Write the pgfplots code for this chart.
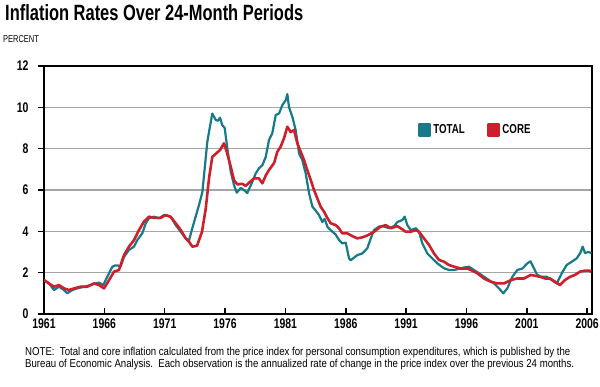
\documentclass[border=0pt]{standalone}
\usepackage{pgfplots}
\pgfplotsset{compat=1.18}
\usepackage{fontspec}
\setmainfont{Liberation Sans}[FakeStretch=0.75]
\newfontfamily\notefont{Liberation Sans}[FakeStretch=0.84]
\definecolor{tealc}{RGB}{22,122,136}
\definecolor{redc}{RGB}{205,32,44}
\definecolor{gridc}{RGB}{165,165,165}

\pgfplotstableread{
year val
1961.00 1.64
1961.41 1.48
1961.83 1.16
1962.24 1.32
1962.66 1.16
1962.93 1.00
1963.34 1.16
1963.76 1.24
1964.31 1.32
1964.87 1.40
1965.28 1.48
1965.56 1.52
1965.91 1.40
1966.24 1.80
1966.66 2.29
1966.90 2.35
1967.10 2.35
1967.35 2.30
1967.63 2.77
1968.04 3.10
1968.46 3.26
1968.73 3.58
1969.14 3.90
1969.43 4.39
1969.70 4.63
1970.11 4.71
1970.53 4.63
1970.94 4.79
1971.22 4.75
1971.50 4.70
1971.91 4.30
1972.33 3.98
1972.74 3.66
1973.01 3.55
1973.29 4.16
1973.84 5.27
1974.12 5.90
1974.53 8.34
1974.94 9.70
1975.23 9.39
1975.41 9.35
1975.58 9.50
1975.77 9.14
1975.97 9.00
1976.19 8.00
1976.47 6.90
1976.74 6.24
1976.97 5.87
1977.30 6.10
1977.57 6.00
1977.84 5.85
1978.26 6.40
1978.54 6.80
1978.81 7.05
1979.09 7.20
1979.37 7.60
1979.64 8.42
1979.91 8.74
1980.20 9.63
1980.47 9.70
1980.74 10.10
1981.03 10.35
1981.16 10.64
1981.30 10.00
1981.57 9.55
1981.85 8.90
1982.13 7.77
1982.40 7.45
1982.68 6.80
1982.96 5.84
1983.23 5.20
1983.51 5.00
1983.78 4.79
1984.06 4.45
1984.25 4.60
1984.50 4.20
1984.75 4.06
1985.17 3.84
1985.44 3.58
1985.71 3.42
1986.00 3.45
1986.27 2.69
1986.41 2.60
1986.96 2.85
1987.37 2.93
1987.79 3.18
1988.07 3.66
1988.34 4.06
1988.75 4.23
1989.17 4.23
1989.58 4.15
1990.00 4.25
1990.27 4.45
1990.69 4.55
1990.88 4.71
1991.10 4.30
1991.38 4.06
1991.80 4.15
1992.07 3.98
1992.34 3.42
1992.76 2.93
1993.17 2.69
1993.59 2.45
1994.14 2.21
1994.55 2.13
1994.97 2.13
1995.52 2.20
1995.80 2.25
1996.21 2.29
1996.62 2.13
1997.04 1.97
1997.45 1.80
1997.87 1.64
1998.28 1.48
1998.70 1.24
1999.05 1.00
1999.38 1.24
1999.80 1.80
2000.21 2.13
2000.63 2.20
2001.04 2.45
2001.30 2.55
2001.60 2.20
2001.85 1.90
2002.23 1.80
2002.65 1.80
2003.06 1.64
2003.48 1.48
2003.89 1.97
2004.30 2.37
2004.72 2.53
2005.13 2.69
2005.41 2.93
2005.63 3.26
2005.82 2.95
2006.10 3.00
2006.35 2.95
}\totaltable

\pgfplotstableread{
year val
1961.00 1.64
1961.41 1.48
1961.83 1.32
1962.24 1.40
1962.66 1.24
1963.07 1.16
1963.49 1.24
1964.04 1.32
1964.59 1.32
1965.14 1.48
1965.56 1.40
1965.97 1.24
1966.39 1.64
1966.80 2.05
1967.21 2.13
1967.63 2.85
1968.04 3.26
1968.46 3.58
1968.87 4.06
1969.28 4.47
1969.70 4.71
1970.11 4.65
1970.67 4.65
1971.08 4.79
1971.50 4.70
1971.91 4.39
1972.33 4.06
1972.74 3.66
1973.01 3.50
1973.29 3.26
1973.68 3.30
1974.09 3.98
1974.40 5.10
1974.67 6.56
1974.94 7.60
1975.23 7.75
1975.58 7.93
1975.91 8.26
1976.14 7.85
1976.47 7.13
1976.74 6.48
1977.02 6.27
1977.43 6.30
1977.71 6.20
1977.98 6.35
1978.40 6.56
1978.81 6.56
1979.09 6.32
1979.37 6.70
1979.64 6.97
1980.06 7.30
1980.33 7.85
1980.61 8.10
1980.88 8.50
1981.16 9.06
1981.44 8.80
1981.71 8.90
1981.99 8.26
1982.27 7.85
1982.54 7.45
1982.81 6.97
1983.10 6.48
1983.37 6.00
1983.64 5.60
1983.92 5.19
1984.20 4.95
1984.47 4.65
1984.75 4.39
1985.17 4.30
1985.44 4.15
1985.71 3.90
1986.13 3.90
1986.54 3.77
1986.96 3.66
1987.37 3.71
1987.79 3.80
1988.34 3.98
1988.90 4.23
1989.31 4.30
1989.72 4.15
1990.27 4.25
1990.55 4.15
1990.97 3.98
1991.38 3.98
1991.80 4.06
1992.07 3.98
1992.48 3.66
1992.90 3.34
1993.31 2.93
1993.73 2.61
1994.14 2.53
1994.55 2.37
1994.97 2.29
1995.52 2.20
1996.07 2.20
1996.35 2.13
1996.90 1.97
1997.45 1.72
1998.01 1.56
1998.56 1.48
1999.11 1.48
1999.67 1.64
2000.21 1.72
2000.77 1.72
2001.32 1.89
2001.68 1.85
2002.09 1.80
2002.51 1.72
2002.92 1.72
2003.34 1.56
2003.75 1.40
2004.16 1.64
2004.58 1.80
2004.99 1.89
2005.41 2.05
2005.82 2.10
2006.18 2.10
2006.35 2.05
}\coretable

\begin{document}
\begin{tikzpicture}
\path[use as bounding box] (0bp,0bp) rectangle (600bp,387bp);
\node[anchor=base west, inner sep=0pt] at (5bp,366bp)
  {\resizebox{298bp}{16bp}{\bfseries Inflation Rates Over 24-Month Periods}};
\node[anchor=base west, inner sep=0pt] at (3bp,344bp)
  {\fontsize{10}{10}\selectfont PERCENT};
\node[anchor=base west, inner sep=0pt, align=left] at (25bp,20bp)
  {\notefont\fontsize{11.5}{12}\selectfont NOTE:\ \ Total and core inflation calculated from the price index for personal consumption expenditures, which is published by the\\[0pt]
   \notefont\fontsize{11.5}{12}\selectfont Bureau of Economic Analysis.\ \ Each observation is the annualized rate of change in the price index over the previous 24 months.};
\begin{axis}[
  at={(44bp,73bp)}, anchor=south west,
  scale only axis, width=548bp, height=248bp,
  xmin=1961, xmax=2006.4, ymin=0, ymax=12,
  xtick={1961,1966,...,2006}, ytick={0,2,...,12},
  xtick pos=bottom, ytick pos=left,
  tick align=inside, major tick length=6bp,
  every tick/.style={black, line width=1.5bp},
  every major y tick/.append style={xshift=-6bp},
  ymajorgrids, major grid style={gridc, line width=1.3bp},
  axis line style={black, line width=2bp},
  /pgf/number format/.cd, 1000 sep={}, assume math mode=true, /pgfplots/.cd,
  ticklabel style={font=\bfseries\fontsize{14}{14}\selectfont},
  yticklabel style={xshift=-12bp},
  xticklabel style={yshift=-1bp},
  legend style={at={(rel axis cs:0.677,0.742)}, anchor=west, draw=none, fill=none,
    font=\bfseries\fontsize{13}{13}\selectfont, legend columns=2,
    /tikz/every even column/.append style={column sep=20bp}},
  legend image code/.code={\fill[#1] (0bp,-5.5bp) rectangle (11bp,5.5bp);},
  clip=true,
]
\addplot[color=tealc, line width=2.2bp, line join=round] table[x=year,y=val] {\totaltable};
\addlegendentry{TOTAL}
\addplot[color=redc, line width=2.6bp, line join=round] table[x=year,y=val] {\coretable};
\addlegendentry{CORE}
\end{axis}
\end{tikzpicture}
\end{document}
